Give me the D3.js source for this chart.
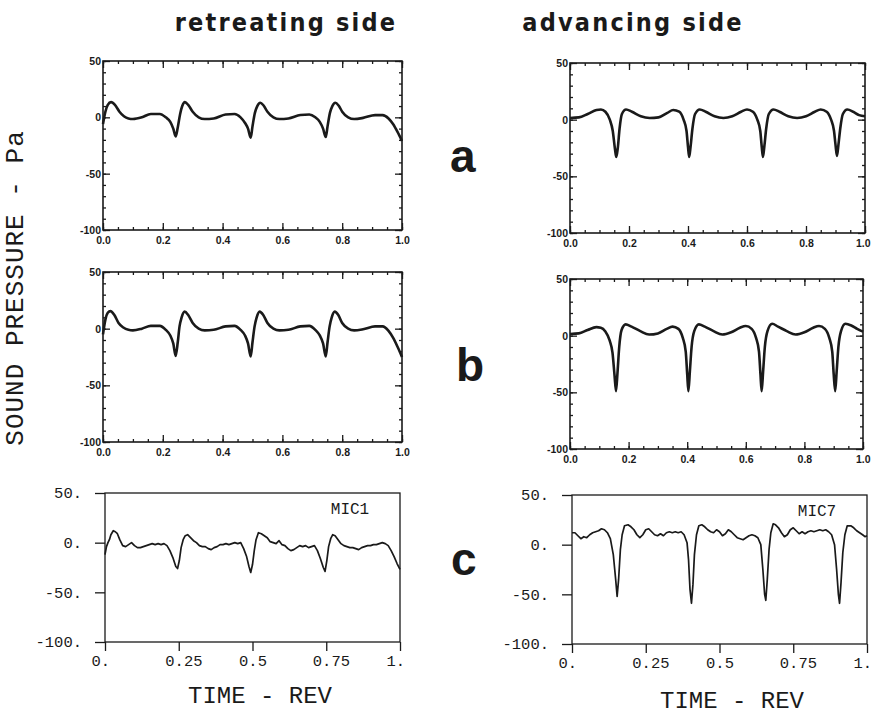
<!DOCTYPE html>
<html>
<head>
<meta charset="utf-8">
<script src="https://cdn.jsdelivr.net/npm/d3@7"></script>
<style>
  body { margin: 0; background: #fff; }
</style>
</head>
<body>
<svg id="chart" width="871" height="715"></svg>
<script>
// ---- data (time in rev, pressure in Pa) ----

const retATime = [0, 0.008, 0.016, 0.027, 0.04, 0.055, 0.07, 0.085, 0.10, 0.13, 0.16, 0.19, 0.21, 0.225, 0.235, 0.243, 0.25, 0.258, 0.265, 0.274, 0.285, 0.30, 0.32, 0.34, 0.37, 0.41, 0.44, 0.46, 0.475, 0.485, 0.494, 0.50, 0.508, 0.516, 0.526, 0.537, 0.55, 0.57, 0.59, 0.62, 0.66, 0.69, 0.71, 0.725, 0.736, 0.745, 0.751, 0.759, 0.767, 0.777, 0.788, 0.80, 0.82, 0.84, 0.87, 0.91, 0.935, 0.955, 0.97, 0.985, 1.0];
const retAPres = [-6, 5, 11, 13.5, 11, 5, 1, -1, -1.5, 0, 3, 3, 0, -4, -10, -17, -9, 3, 10, 13.5, 11, 5, 0, -1.5, -1, 2.5, 3, 0, -5, -10, -18, -8, 4, 10, 13, 10.5, 5, 0, -1.5, -1, 2, 2.5, 0, -4, -10, -17.5, -8, 4, 10, 13, 10.5, 5, 0, -1.5, -0.5, 2, 2, -1, -6, -13, -21];

const retBTime = [0, 0.008, 0.016, 0.025, 0.038, 0.052, 0.068, 0.085, 0.10, 0.13, 0.16, 0.19, 0.21, 0.225, 0.235, 0.243, 0.25, 0.256, 0.263, 0.273, 0.285, 0.30, 0.32, 0.34, 0.37, 0.41, 0.44, 0.46, 0.475, 0.485, 0.494, 0.50, 0.507, 0.514, 0.524, 0.536, 0.55, 0.57, 0.59, 0.62, 0.66, 0.69, 0.71, 0.725, 0.736, 0.745, 0.751, 0.758, 0.765, 0.775, 0.787, 0.80, 0.82, 0.84, 0.87, 0.91, 0.935, 0.955, 0.97, 0.985, 1.0];
const retBPres = [-5, 8, 14, 15.5, 12, 5, 1, -1, -1.5, 0, 2.5, 2.5, -1, -6, -13, -24, -12, 2, 10, 15, 12, 5, 0, -1.5, -1, 2, 2.5, -1, -6, -13, -24.5, -12, 2, 10, 15, 12, 5, 0, -1.5, -1, 2, 2.5, -1, -6, -13, -24.5, -12, 2, 10, 15, 12, 5, 0, -1.5, -0.5, 2, 2, -2, -8, -16, -25];

const advTime = [0, 0.03, 0.06, 0.09, 0.105, 0.12, 0.135, 0.145, 0.152, 0.157, 0.162, 0.168, 0.176, 0.19, 0.21, 0.24, 0.27, 0.30, 0.33, 0.35, 0.37, 0.385, 0.395, 0.40, 0.404, 0.409, 0.415, 0.424, 0.44, 0.46, 0.49, 0.52, 0.55, 0.58, 0.60, 0.62, 0.635, 0.645, 0.65, 0.654, 0.659, 0.665, 0.674, 0.69, 0.71, 0.74, 0.77, 0.80, 0.83, 0.85, 0.87, 0.885, 0.895, 0.90, 0.905, 0.91, 0.916, 0.925, 0.94, 0.96, 0.98, 1.0];
const advAPres = [1.5, 2, 5, 8.5, 9, 7, 0, -10, -25, -33, -25, -8, 5, 9, 7, 3, 1.5, 2, 6, 8.5, 7, 0, -10, -24, -33, -23, -8, 5, 9, 7, 3, 1.5, 3, 7, 9, 7, 0, -10, -24, -33, -23, -8, 5, 9, 7, 3, 1.5, 3, 7, 9, 7, 0, -10, -22, -32, -22, -8, 5, 9, 7, 4, 3];
const advBPres = [1.5, 2, 5, 7.5, 7, 4, -4, -15, -35, -49, -33, -10, 5, 10, 8, 4, 1, 2, 6, 8, 6, -2, -14, -34, -49, -32, -10, 4, 10, 8, 4, 1, 3, 7, 8.5, 6, -2, -14, -34, -49, -32, -10, 4, 10.5, 8, 4, 1, 3, 7, 8.5, 6, -2, -14, -34, -49, -32, -10, 4, 10.5, 9, 6, 3.5];

const mic1Time = [0, 0.005, 0.01, 0.015, 0.02, 0.028, 0.035, 0.042, 0.05, 0.06, 0.07, 0.08, 0.09, 0.10, 0.11, 0.12, 0.13, 0.14, 0.15, 0.16, 0.17, 0.18, 0.19, 0.20, 0.21, 0.22, 0.23, 0.24, 0.246, 0.252, 0.258, 0.265, 0.272, 0.28, 0.29, 0.30, 0.31, 0.32, 0.33, 0.34, 0.35, 0.36, 0.37, 0.38, 0.39, 0.40, 0.41, 0.42, 0.43, 0.44, 0.45, 0.46, 0.47, 0.48, 0.488, 0.494, 0.50, 0.506, 0.512, 0.52, 0.53, 0.54, 0.55, 0.56, 0.57, 0.58, 0.59, 0.60, 0.61, 0.62, 0.63, 0.64, 0.65, 0.66, 0.67, 0.68, 0.69, 0.70, 0.71, 0.72, 0.73, 0.74, 0.746, 0.752, 0.758, 0.765, 0.772, 0.78, 0.79, 0.80, 0.81, 0.82, 0.83, 0.84, 0.85, 0.86, 0.87, 0.88, 0.89, 0.90, 0.91, 0.92, 0.93, 0.94, 0.95, 0.96, 0.97, 0.98, 0.99, 1.0];
const mic1Pres = [-12, -4, 0, 3, 8, 12, 11, 9, 3, -3, -4, -2, 0, -3, -5, -5, -4, -3, -2, -1, -2, -1, -2, -1, -3, -8, -15, -24, -26, -18, -5, 3, 7, 8, 5, 2, 0, -3, -4, -4, -6, -7, -5, -4, -2, -2, -1, -2, -1, 0, -1, 0, -6, -14, -24, -30, -22, -8, 3, 10, 9, 7, 5, 1, 0, -1, 2, -2, -3, -6, -8, -7, -5, -3, -4, -3, -5, -4, -3, -8, -16, -25, -29, -18, -4, 4, 8, 7, 3, -1, -3, -4, -5, -5, -6, -7, -5, -4, -3, -3, -2, -2, -1, 0, -1, -3, -8, -14, -21, -27];

const mic7Time = [0, 0.01, 0.02, 0.03, 0.04, 0.05, 0.06, 0.07, 0.08, 0.09, 0.10, 0.11, 0.12, 0.13, 0.14, 0.148, 0.153, 0.158, 0.164, 0.17, 0.178, 0.19, 0.20, 0.21, 0.22, 0.23, 0.24, 0.25, 0.26, 0.27, 0.28, 0.29, 0.30, 0.31, 0.32, 0.33, 0.34, 0.35, 0.36, 0.37, 0.38, 0.39, 0.395, 0.40, 0.405, 0.41, 0.415, 0.422, 0.43, 0.44, 0.45, 0.46, 0.47, 0.48, 0.49, 0.50, 0.51, 0.52, 0.53, 0.54, 0.55, 0.56, 0.57, 0.58, 0.59, 0.60, 0.61, 0.62, 0.63, 0.64, 0.647, 0.653, 0.657, 0.662, 0.668, 0.674, 0.682, 0.69, 0.70, 0.71, 0.72, 0.73, 0.74, 0.75, 0.76, 0.77, 0.78, 0.79, 0.80, 0.81, 0.82, 0.83, 0.84, 0.85, 0.86, 0.87, 0.88, 0.89, 0.897, 0.903, 0.907, 0.912, 0.918, 0.925, 0.933, 0.945, 0.955, 0.965, 0.975, 0.985, 0.993, 1.0];
const mic7Pres = [12, 12, 9, 6, 8, 7, 10, 12, 13, 14, 16, 15, 12, 6, -10, -35, -52, -35, -5, 10, 19, 20, 18, 15, 10, 7, 10, 15, 16, 13, 10, 9, 11, 9, 12, 13, 12, 13, 12, 13, 10, 2, -15, -45, -59, -40, -10, 10, 19, 20, 18, 15, 13, 12, 15, 13, 9, 11, 15, 13, 10, 7, 6, 5, 7, 9, 10, 9, 7, 0, -25, -50, -56, -35, -5, 12, 21, 20, 17, 12, 8, 10, 15, 17, 14, 11, 13, 11, 13, 14, 13, 14, 15, 14, 15, 13, 10, 0, -25, -50, -59, -38, -8, 10, 19, 19, 17, 14, 12, 10, 8, 9];

// ---- axis ticks and labels ----
const idlXTicks = [0, 0.2, 0.4, 0.6, 0.8, 1.0];
const idlYTicks = [50, 0, -50, -100];
const micXTicks = [0, 0.25, 0.5, 0.75, 1];
const micXLabels = ["0.", "0.25", "0.5", "0.75", "1."];
const micYTicks = [50, 0, -50, -100];
const micYLabels = ["50.", "0.", "-50.", "-100."];

const columnTitles = ["retreating side", "advancing side"];
const rowLetters = ["a", "b", "c"];
const micNames = ["MIC1", "MIC7"];

// ---- drawing ----
const W = 871;
const svg = d3.select("#chart");
const ink = "#1a1a1a";
const idlFont = "'Liberation Sans', Arial, sans-serif";
const monoFont = "'Liberation Mono', 'Courier New', monospace";
const monoSize = 15.5;

function pressureLine(x, y, ts, ps, curve) {
  return d3.line()
    .x(i => x(ts[i]))
    .y(i => y(ps[i]))
    .curve(curve)(d3.range(ts.length));
}

// IDL style panel: boxed, inward ticks on all four sides
function idlPanel(box, ts, ps) {
  const x = d3.scaleLinear().domain([0, 1]).range([box.l, box.r]);
  const y = d3.scaleLinear().domain([-100, 50]).range([box.b, box.t]);
  const g = svg.append("g");
  const minorX = d3.range(0, 1.0001, 0.05);
  const minorY = d3.range(-100, 50.001, 10);

  const sides = [
    [d3.axisBottom, x, "translate(0," + box.b + ")", idlXTicks, d3.format(".1f"), 7],
    [d3.axisTop, x, "translate(0," + box.t + ")", idlXTicks, null, 6],
    [d3.axisLeft, y, "translate(" + box.l + ",0)", idlYTicks, d => String(d), 2],
    [d3.axisRight, y, "translate(" + box.r + ",0)", idlYTicks, null, 3],
  ];
  sides.forEach(([make, sc, tr, major, fmt, pad]) => {
    const minor = sc === x ? minorX : minorY;
    g.append("g").attr("transform", tr)
      .call(make(sc).tickValues(minor).tickSize(-3).tickFormat(""));
    const ax = g.append("g").attr("transform", tr)
      .call(make(sc).tickValues(major).tickSize(-7).tickPadding(pad)
        .tickFormat(fmt || (() => "")));
    // keep the last bottom label inside the page when the box runs to the edge
    if (fmt && sc === x && box.r + 9 > W) {
      ax.selectAll(".tick text").filter(d => d === 1)
        .attr("text-anchor", "end").attr("x", W - box.r - 1);
    }
  });
  g.selectAll(".domain").remove();
  g.selectAll(".tick line").attr("stroke", ink).attr("stroke-width", 1.3);
  g.selectAll(".tick text")
    .attr("fill", ink)
    .style("font-family", idlFont)
    .style("font-weight", "bold")
    .style("font-size", "10.5px");

  g.append("rect")
    .attr("x", box.l).attr("y", box.t)
    .attr("width", box.r - box.l).attr("height", box.b - box.t)
    .attr("fill", "none").attr("stroke", ink).attr("stroke-width", 1.6);

  g.append("path")
    .attr("d", pressureLine(x, y, ts, ps, d3.curveMonotoneX))
    .attr("fill", "none").attr("stroke", ink)
    .attr("stroke-width", 2.6).attr("stroke-linejoin", "round");
}

// measured-data panel: typewriter labels, outward ticks on left and bottom
function micPanel(box, ts, ps, name, titlePos) {
  const x = d3.scaleLinear().domain([0, 1]).range([box.l, box.r]);
  const y = d3.scaleLinear().domain([-100, 50]).range([box.b, box.t]);
  const g = svg.append("g");
  const charW = 0.6 * monoSize;

  // x labels sit with their decimal point on the tick
  const xa = g.append("g").attr("transform", "translate(0," + box.b + ")")
    .call(d3.axisBottom(x).tickValues(micXTicks).tickSize(9).tickPadding(4)
      .tickFormat((d, i) => micXLabels[i]));
  xa.selectAll(".tick text").attr("text-anchor", "start").attr("x", -1.5 * charW);

  g.append("g").attr("transform", "translate(" + box.l + ",0)")
    .call(d3.axisLeft(y).tickValues(micYTicks).tickSize(10).tickPadding(13)
      .tickFormat((d, i) => micYLabels[i]));
  g.selectAll(".domain").remove();
  g.selectAll(".tick line").attr("stroke", ink).attr("stroke-width", 1.3);
  g.selectAll(".tick text")
    .attr("fill", ink)
    .style("font-family", monoFont)
    .style("font-size", monoSize + "px");

  g.append("rect")
    .attr("x", box.l).attr("y", box.t)
    .attr("width", box.r - box.l).attr("height", box.b - box.t)
    .attr("fill", "none").attr("stroke", ink).attr("stroke-width", 1.3);

  g.append("path")
    .attr("d", pressureLine(x, y, ts, ps, d3.curveLinear))
    .attr("fill", "none").attr("stroke", ink)
    .attr("stroke-width", 1.7).attr("stroke-linejoin", "round");

  g.append("text")
    .attr("x", box.r - 50).attr("y", box.t + 21)
    .attr("text-anchor", "middle")
    .attr("fill", ink)
    .style("font-family", monoFont)
    .style("font-size", "16px")
    .text(name);

  g.append("text")
    .attr("x", titlePos[0]).attr("y", titlePos[1])
    .attr("text-anchor", "middle")
    .attr("fill", ink)
    .style("font-family", monoFont)
    .style("font-size", "24px")
    .text("TIME - REV");
}

idlPanel({ l: 103, t: 61, r: 402, b: 230 }, retATime, retAPres);
idlPanel({ l: 570, t: 63, r: 865, b: 233 }, advTime, advAPres);
idlPanel({ l: 103, t: 272, r: 402, b: 442 }, retBTime, retBPres);
idlPanel({ l: 570, t: 279, r: 863, b: 449 }, advTime, advBPres);
micPanel({ l: 105, t: 493, r: 400, b: 642 }, mic1Time, mic1Pres, micNames[0], [260, 703]);
micPanel({ l: 572, t: 495, r: 867, b: 644 }, mic7Time, mic7Pres, micNames[1], [732, 708]);

// column titles
svg.selectAll(".coltitle").data(columnTitles).join("text")
  .attr("class", "coltitle")
  .attr("x", (d, i) => [286, 633][i]).attr("y", 31)
  .attr("text-anchor", "middle")
  .attr("fill", ink)
  .style("font-family", "'Liberation Sans Narrow', 'DejaVu Sans Condensed', sans-serif")
  .style("font-weight", "bold")
  .style("font-size", "25px")
  .style("letter-spacing", "2.2px")
  .text(d => d);

// row letters
svg.selectAll(".rowletter").data(rowLetters).join("text")
  .attr("class", "rowletter")
  .attr("x", (d, i) => [450, 456, 451][i]).attr("y", (d, i) => [172, 381, 575][i])
  .attr("fill", ink)
  .style("font-family", "'Liberation Sans', Arial, sans-serif")
  .style("font-weight", "bold")
  .style("font-size", "46px")
  .text(d => d);

// shared y label
svg.append("text")
  .attr("transform", "translate(23,288) rotate(-90)")
  .attr("text-anchor", "middle")
  .attr("fill", ink)
  .style("font-family", monoFont)
  .style("font-size", "26px")
  .style("letter-spacing", "1px")
  .text("SOUND PRESSURE - Pa");
</script>
</body>
</html>
